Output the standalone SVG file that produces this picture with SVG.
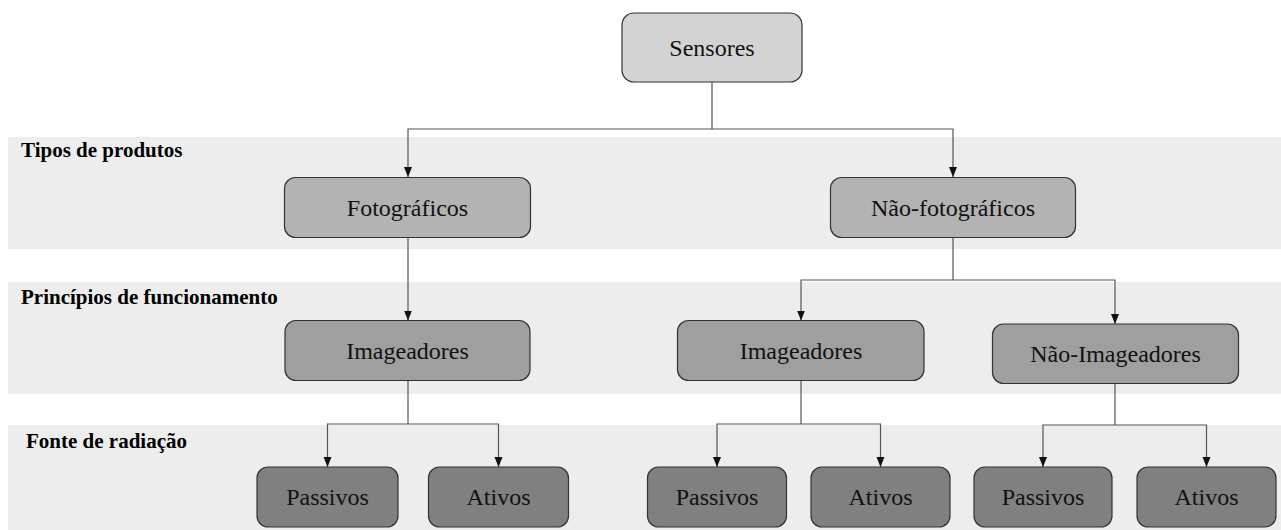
<svg xmlns="http://www.w3.org/2000/svg" width="1281" height="530" viewBox="0 0 1281 530">
<style>
.band{fill:#ededed}
.lbl{font-family:"Liberation Serif","Times New Roman",serif;font-weight:bold;font-size:21px;fill:#000}
.n rect{stroke:#333;stroke-width:1.2}
.n text{font-family:"Liberation Serif","Times New Roman",serif;font-size:24px;fill:#111;text-anchor:middle}
.l0 rect{fill:#d3d3d3}
.l1 rect{fill:#b3b3b3}
.l2 rect{fill:#9f9f9f}
.l3 rect{fill:#808080}
#connectors path{fill:none;stroke:#555;stroke-width:1.2}
</style>
<defs>
<marker id="arrd" markerUnits="userSpaceOnUse" markerWidth="9" markerHeight="10" viewBox="0 0 9 10" refX="4.5" refY="10" orient="0">
<path d="M0.5,0 L8.5,0 L4.5,10 Z" fill="#111"/>
</marker>
</defs>
<rect width="1281" height="530" fill="#fff"/>
<g id="bands">
<rect class="band" x="8" y="137" width="1273" height="112"/>
<rect class="band" x="8" y="282" width="1273" height="112"/>
<rect class="band" x="8" y="425" width="1273" height="105"/>
<text class="lbl" x="21" y="157">Tipos de produtos</text>
<text class="lbl" x="21" y="304">Princípios de funcionamento</text>
<text class="lbl" x="26" y="448">Fonte de radiação</text>
</g>
<g id="connectors">
<path d="M712,82 V129"/>
<path d="M712,129 H408 V177" marker-end="url(#arrd)"/>
<path d="M712,129 H953 V177" marker-end="url(#arrd)"/>
<path d="M408,237 V320.5" marker-end="url(#arrd)"/>
<path d="M953,237 V280"/>
<path d="M953,280 H801 V320.5" marker-end="url(#arrd)"/>
<path d="M953,280 H1115 V324" marker-end="url(#arrd)"/>
<path d="M408,381 V424"/>
<path d="M408,424 H327.5 V467" marker-end="url(#arrd)"/>
<path d="M408,424 H498.5 V467" marker-end="url(#arrd)"/>
<path d="M801,381 V424"/>
<path d="M801,424 H717 V467" marker-end="url(#arrd)"/>
<path d="M801,424 H880.5 V467" marker-end="url(#arrd)"/>
<path d="M1115,383 V425"/>
<path d="M1115,425 H1043 V467" marker-end="url(#arrd)"/>
<path d="M1115,425 H1206.5 V467" marker-end="url(#arrd)"/>
</g>
<g id="sensores" class="n l0"><rect x="622" y="13" width="180" height="69" rx="12"/><text x="712" y="56">Sensores</text></g>
<g id="fotograficos" class="n l1"><rect x="284.5" y="177.5" width="246" height="60" rx="11"/><text x="407.5" y="215.5">Fotográficos</text></g>
<g id="nao-fotograficos" class="n l1"><rect x="830.5" y="177.5" width="245" height="60" rx="11"/><text x="953" y="215.5">Não-fotográficos</text></g>
<g id="imageadores1" class="n l2"><rect x="285" y="320.5" width="245" height="60" rx="11"/><text x="407.5" y="358.5">Imageadores</text></g>
<g id="imageadores2" class="n l2"><rect x="677.5" y="320.5" width="246.5" height="60" rx="11"/><text x="801" y="358.5">Imageadores</text></g>
<g id="nao-imageadores" class="n l2"><rect x="992.5" y="324" width="246" height="59.5" rx="11"/><text x="1115.5" y="362">Não-Imageadores</text></g>
<g id="passivos1" class="n l3"><rect x="257" y="467" width="141" height="60" rx="11"/><text x="327.5" y="505">Passivos</text></g>
<g id="ativos1" class="n l3"><rect x="428.5" y="467" width="140" height="60" rx="11"/><text x="498.5" y="505">Ativos</text></g>
<g id="passivos2" class="n l3"><rect x="647.5" y="467" width="139" height="60" rx="11"/><text x="717" y="505">Passivos</text></g>
<g id="ativos2" class="n l3"><rect x="811" y="467" width="139" height="60" rx="11"/><text x="880.5" y="505">Ativos</text></g>
<g id="passivos3" class="n l3"><rect x="974" y="467" width="138" height="60" rx="11"/><text x="1043" y="505">Passivos</text></g>
<g id="ativos3" class="n l3"><rect x="1137" y="467" width="139" height="60" rx="11"/><text x="1206.5" y="505">Ativos</text></g>
</svg>
